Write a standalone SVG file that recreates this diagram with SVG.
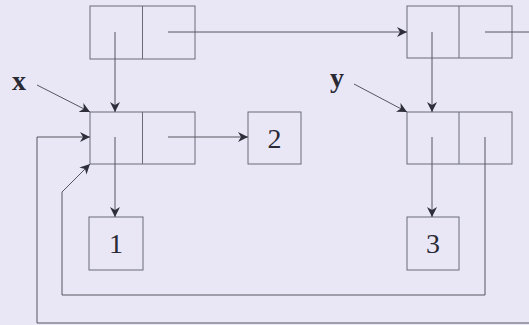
<svg xmlns="http://www.w3.org/2000/svg" width="529" height="325" viewBox="0 0 529 325">
<style>
.box{fill:none;stroke:#6a6a78;stroke-width:1}
.ln{fill:none;stroke:#55555f;stroke-width:1}
.t{font-family:"Liberation Serif",serif;font-size:28px;fill:#2a2a35;text-anchor:middle}
.lbl{font-family:"Liberation Serif",serif;font-size:28px;font-weight:bold;fill:#2a2a35;text-anchor:middle}
</style>
<defs>
<marker id="ah" viewBox="0 0 10 10" refX="10" refY="5" markerWidth="10" markerHeight="10" markerUnits="userSpaceOnUse" orient="auto">
<path d="M0,0 L10,5 L0,10 L3,5 Z" fill="#2f2f3c"/>
</marker>
</defs>
<rect width="529" height="325" fill="#e9e7f5"/>
<g id="nodeA">
<rect class="box" x="90" y="6" width="105" height="53"/>
<line class="box" x1="142.5" y1="6" x2="142.5" y2="59"/>
</g>
<g id="nodeB">
<rect class="box" x="407" y="6" width="105" height="52"/>
<line class="box" x1="459" y1="6" x2="459" y2="58"/>
</g>
<g id="nodeX">
<rect class="box" x="90" y="112" width="105" height="52"/>
<line class="box" x1="142.5" y1="112" x2="142.5" y2="164"/>
</g>
<g id="nodeY">
<rect class="box" x="407" y="112" width="105" height="52"/>
<line class="box" x1="459" y1="112" x2="459" y2="164"/>
</g>
<g id="node1">
<rect class="box" x="89" y="217" width="54" height="53"/>
<text class="t" x="116" y="253">1</text>
</g>
<g id="node2">
<rect class="box" x="248" y="112" width="53" height="52"/>
<text class="t" x="274.5" y="148">2</text>
</g>
<g id="node3">
<rect class="box" x="407" y="217" width="52" height="53"/>
<text class="t" x="433" y="253">3</text>
</g>
<g id="labelX"><text class="lbl" x="19" y="90">x</text></g>
<g id="labelY"><text class="lbl" x="337" y="87">y</text></g>
<g id="connectors">
<line class="ln" x1="115" y1="32" x2="115" y2="112" marker-end="url(#ah)"/>
<line class="ln" x1="168" y1="32" x2="407" y2="32" marker-end="url(#ah)"/>
<line class="ln" x1="485" y1="32" x2="529" y2="32"/>
<line class="ln" x1="432" y1="32" x2="432" y2="112" marker-end="url(#ah)"/>
<line class="ln" x1="37" y1="85" x2="90" y2="112" marker-end="url(#ah)"/>
<line class="ln" x1="354" y1="84" x2="407" y2="112" marker-end="url(#ah)"/>
<line class="ln" x1="168" y1="137" x2="248" y2="137" marker-end="url(#ah)"/>
<line class="ln" x1="115" y1="137" x2="115" y2="217" marker-end="url(#ah)"/>
<line class="ln" x1="432" y1="137" x2="432" y2="217" marker-end="url(#ah)"/>
<polyline class="ln" points="485,137 485,295 62,295 62,192 90,164" marker-end="url(#ah)"/>
<polyline class="ln" points="529,323 37,323 37,137 90,137" marker-end="url(#ah)"/>
</g>
</svg>
